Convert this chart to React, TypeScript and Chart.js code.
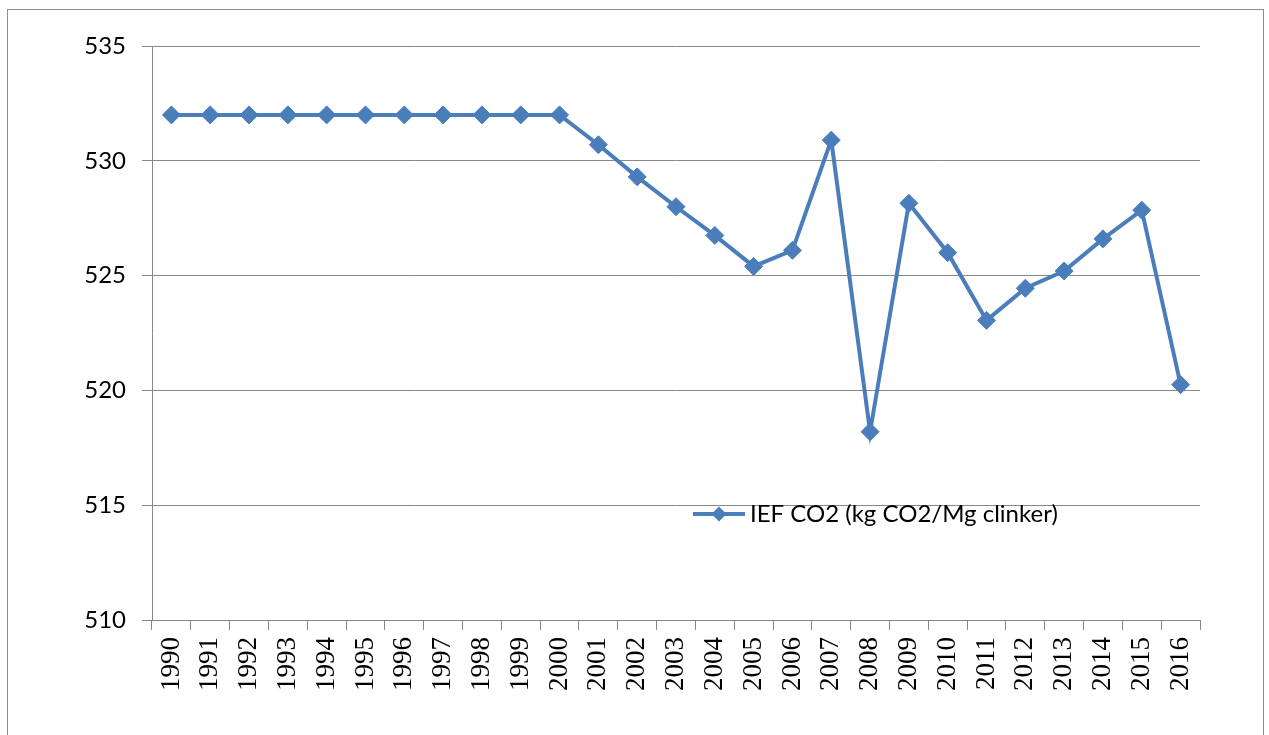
import React, { useEffect, useRef } from "react";
import { Chart, registerables } from "chart.js";

Chart.register(...registerables);

const years = ["1990","1991","1992","1993","1994","1995","1996","1997","1998","1999","2000","2001","2002","2003","2004","2005","2006","2007","2008","2009","2010","2011","2012","2013","2014","2015","2016"];
const iefValues = [532, 532, 532, 532, 532, 532, 532, 532, 532, 532, 532, 530.7, 529.3, 528.0, 526.75, 525.4, 526.1, 530.9, 518.2, 528.15, 526.0, 523.05, 524.45, 525.2, 526.6, 527.85, 520.25];
const seriesLabel = "IEF CO2 (kg CO2/Mg clinker)";
const yMin = 510;
const yMax = 535;
const yStep = 5;

const LINE_COLOR = "#4A7EBB";
const GRID_COLOR = "#888888";

const frameAndLegend = {
  id: "frameAndLegend",
  afterDraw(chart: any) {
    const ctx = chart.ctx;
    ctx.save();
    // outer frame
    ctx.strokeStyle = "#8c8c8c";
    ctx.lineWidth = 1;
    ctx.strokeRect(7.5, 9.5, 1256, 740);
    // legend inside plot
    const lx = 693;
    const ly = 514;
    ctx.strokeStyle = LINE_COLOR;
    ctx.lineWidth = 4;
    ctx.beginPath();
    ctx.moveTo(lx, ly);
    ctx.lineTo(lx + 52, ly);
    ctx.stroke();
    ctx.fillStyle = LINE_COLOR;
    ctx.beginPath();
    const cx = lx + 26;
    const r = 7.5;
    ctx.moveTo(cx, ly - r);
    ctx.lineTo(cx + r, ly);
    ctx.lineTo(cx, ly + r);
    ctx.lineTo(cx - r, ly);
    ctx.closePath();
    ctx.fill();
    ctx.fillStyle = "#000000";
    ctx.font = "24px Lato";
    ctx.textBaseline = "middle";
    ctx.textAlign = "left";
    ctx.fillText(seriesLabel, lx + 57, ly);
    ctx.restore();
  },
};

export default function App() {
  const canvasRef = useRef<HTMLCanvasElement | null>(null);

  useEffect(() => {
    if (!canvasRef.current) return;
    const chart = new Chart(canvasRef.current, {
      type: "line",
      data: {
        labels: years,
        datasets: [
          {
            label: seriesLabel,
            data: iefValues,
            borderColor: LINE_COLOR,
            backgroundColor: LINE_COLOR,
            borderWidth: 4,
            pointStyle: "rectRot",
            pointRadius: 9,
            pointHoverRadius: 9,
            pointBackgroundColor: LINE_COLOR,
            pointBorderColor: LINE_COLOR,
            pointBorderWidth: 1,
            tension: 0,
          },
        ],
      },
      options: {
        responsive: false,
        animation: false,
        layout: { padding: { left: 0, top: 46, right: 69, bottom: 0 } },
        plugins: {
          legend: { display: false },
          tooltip: { enabled: false },
        },
        scales: {
          x: {
            type: "category",
            offset: true,
            grid: {
              offset: true,
              drawOnChartArea: false,
              drawTicks: true,
              tickLength: 10,
              color: GRID_COLOR,
            },
            border: { color: GRID_COLOR, width: 1 },
            ticks: {
              minRotation: 90,
              maxRotation: 90,
              autoSkip: false,
              padding: 7,
              color: "#000000",
              font: { family: "'Liberation Serif'", size: 27 },
            },
            afterFit(scale: any) {
              scale.height = 115;
            },
          },
          y: {
            min: yMin,
            max: yMax,
            grid: {
              color: GRID_COLOR,
              tickLength: 10,
              drawTicks: true,
            },
            border: { color: GRID_COLOR, width: 1 },
            ticks: {
              stepSize: yStep,
              padding: 16,
              color: "#000000",
              font: { family: "Lato", size: 24 },
            },
            afterFit(scale: any) {
              scale.width = 152;
            },
          },
        },
      },
      plugins: [frameAndLegend],
    });
    return () => chart.destroy();
  }, []);

  return (
    <div style={{ position: "absolute", left: 0, top: 0, width: 1269, height: 735, background: "#ffffff" }}>
      <canvas ref={canvasRef} width={1269} height={735} />
    </div>
  );
}
